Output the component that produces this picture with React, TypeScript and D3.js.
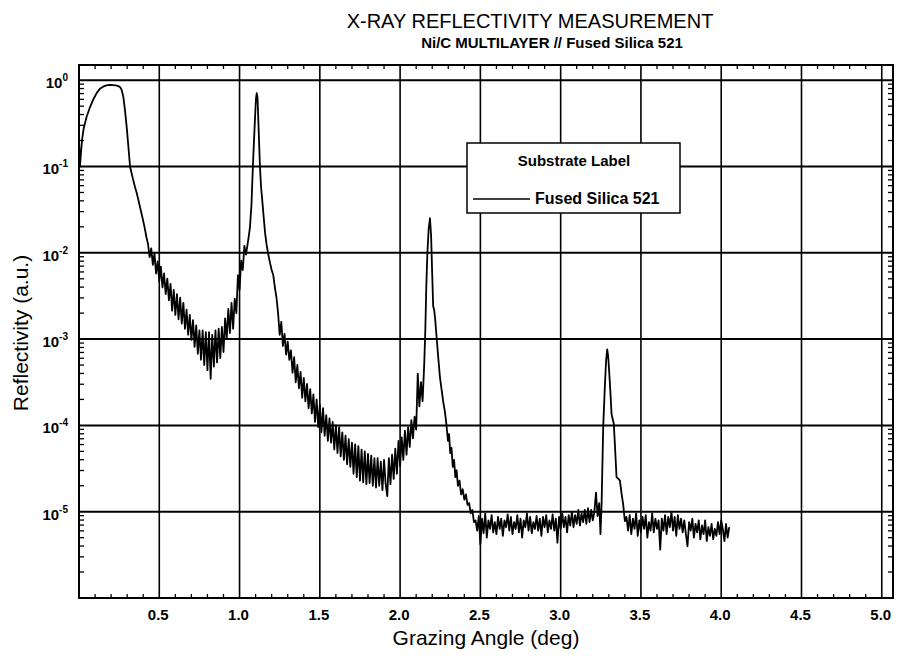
import React from "react";
import * as d3 from "d3";

const W = 898;
const H = 658;
const plot = { left: 79, right: 893, top: 65, bottom: 598 };

const titleText = "X-RAY REFLECTIVITY MEASUREMENT";
const subtitleText = "Ni/C MULTILAYER // Fused Silica 521";
const xAxisTitle = "Grazing Angle (deg)";
const yAxisTitle = "Reflectivity (a.u.)";
const legendTitle = "Substrate Label";
const seriesName = "Fused Silica 521";

const xDomain: [number, number] = [0, 5.07];
const yDomain: [number, number] = [1e-6, 1.5];
const xTicks = [0.5, 1.0, 1.5, 2.0, 2.5, 3.0, 3.5, 4.0, 4.5, 5.0];
const xTickLabels = ["0.5", "1.0", "1.5", "2.0", "2.5", "3.0", "3.5", "4.0", "4.5", "5.0"];
const yTickExponents = [0, -1, -2, -3, -4, -5];

// [grazing angle (deg), log10 reflectivity]
const criticalEdge: [number, number][] = [
  [0.000, -0.69], [0.006, -1.00], [0.012, -0.85], [0.019, -0.69], [0.030, -0.55], [0.048, -0.42],
  [0.065, -0.33], [0.087, -0.23], [0.110, -0.15], [0.130, -0.10], [0.150, -0.075], [0.170, -0.060],
  [0.190, -0.055], [0.210, -0.056], [0.230, -0.060], [0.245, -0.068], [0.258, -0.085], [0.266, -0.115],
  [0.276, -0.19], [0.286, -0.34], [0.297, -0.54], [0.308, -0.78], [0.318, -1.00], [0.333, -1.12],
  [0.349, -1.24], [0.360, -1.31], [0.370, -1.39], [0.380, -1.47], [0.390, -1.55], [0.400, -1.63],
  [0.410, -1.72], [0.420, -1.82],
];

const firstMinimum: [number, number][] = [
  [0.43, -1.90], [0.44, -2.05], [0.45, -1.95], [0.46, -2.14], [0.47, -2.01], [0.48, -2.24], [0.49, -2.10],
  [0.50, -2.33], [0.51, -2.16], [0.52, -2.40], [0.53, -2.24], [0.54, -2.48], [0.55, -2.30], [0.56, -2.55],
  [0.57, -2.36], [0.58, -2.67], [0.59, -2.43], [0.60, -2.72], [0.61, -2.48], [0.62, -2.77], [0.63, -2.52],
  [0.64, -2.82], [0.65, -2.58], [0.66, -2.88], [0.67, -2.66], [0.68, -2.95], [0.69, -2.72], [0.70, -3.01],
  [0.71, -2.78], [0.72, -3.09], [0.73, -2.84], [0.74, -3.17], [0.75, -2.90], [0.76, -3.24], [0.77, -2.90],
  [0.78, -3.30], [0.79, -2.92], [0.80, -3.36], [0.81, -2.92], [0.82, -3.46], [0.83, -2.95], [0.84, -3.32],
  [0.85, -2.90], [0.86, -3.27], [0.87, -2.88], [0.88, -3.22], [0.89, -2.86], [0.90, -3.15], [0.91, -2.76],
  [0.92, -3.00], [0.93, -2.65], [0.94, -2.93], [0.95, -2.58], [0.96, -2.88], [0.97, -2.53], [0.98, -2.70],
  [0.99, -2.26], [1.00, -2.43], [1.01, -2.09], [1.02, -2.20], [1.03, -1.92], [1.04, -2.02],
];

const firstBragg: [number, number][] = [
  [1.050, -1.90], [1.058, -1.80], [1.065, -1.70], [1.074, -1.45], [1.083, -1.00], [1.090, -0.70],
  [1.096, -0.45], [1.102, -0.22], [1.107, -0.15], [1.112, -0.20], [1.118, -0.52], [1.127, -1.00],
  [1.134, -1.24], [1.140, -1.36], [1.150, -1.58], [1.159, -1.77], [1.168, -1.90], [1.177, -2.00],
  [1.190, -2.12], [1.200, -2.20], [1.210, -2.26], [1.220, -2.40], [1.230, -2.52],
];

const secondMinimum: [number, number][] = [
  [1.24, -2.70], [1.25, -2.95], [1.26, -2.80], [1.27, -3.08], [1.28, -2.94], [1.29, -3.18], [1.30, -3.03],
  [1.31, -3.24], [1.32, -3.13], [1.33, -3.39], [1.34, -3.21], [1.35, -3.50], [1.36, -3.30], [1.37, -3.57],
  [1.38, -3.38], [1.39, -3.68], [1.40, -3.45], [1.41, -3.72], [1.42, -3.52], [1.43, -3.80], [1.44, -3.58],
  [1.45, -3.86], [1.46, -3.64], [1.47, -3.96], [1.48, -3.70], [1.49, -4.02], [1.50, -3.76], [1.51, -4.08],
  [1.52, -3.80], [1.53, -4.12], [1.54, -3.88], [1.55, -4.18], [1.56, -3.92], [1.57, -4.20], [1.58, -3.96],
  [1.59, -4.28], [1.60, -4.00], [1.61, -4.32], [1.62, -4.02], [1.63, -4.36], [1.64, -4.08], [1.65, -4.40],
  [1.66, -4.12], [1.67, -4.45], [1.68, -4.16], [1.69, -4.48], [1.70, -4.20], [1.71, -4.56], [1.72, -4.22],
  [1.73, -4.60], [1.74, -4.24], [1.75, -4.64], [1.76, -4.28], [1.77, -4.66], [1.78, -4.30], [1.79, -4.68],
  [1.80, -4.33], [1.81, -4.67], [1.82, -4.35], [1.83, -4.70], [1.84, -4.38], [1.85, -4.72], [1.86, -4.38],
  [1.87, -4.70], [1.88, -4.42], [1.89, -4.75], [1.90, -4.40], [1.91, -4.68], [1.92, -4.82], [1.93, -4.38],
  [1.94, -4.68], [1.95, -4.34], [1.96, -4.62], [1.97, -4.27], [1.98, -4.56], [1.99, -4.18], [2.00, -4.47],
  [2.01, -4.14], [2.02, -4.40], [2.03, -4.06], [2.04, -4.34], [2.05, -4.02], [2.06, -4.25], [2.07, -3.94],
  [2.08, -4.15], [2.09, -3.90], [2.10, -4.05], [2.11, -3.40], [2.12, -3.78], [2.13, -3.50], [2.14, -3.72],
];

const secondBragg: [number, number][] = [
  [2.150, -3.30], [2.157, -2.90], [2.163, -2.40], [2.170, -2.00], [2.178, -1.72], [2.186, -1.60],
  [2.193, -1.80], [2.200, -2.25], [2.206, -2.62], [2.212, -2.66], [2.218, -2.76], [2.227, -2.97],
  [2.237, -3.20], [2.248, -3.44], [2.258, -3.58], [2.268, -3.72], [2.279, -3.84], [2.289, -4.00],
  [2.298, -4.18], [2.305, -4.10], [2.312, -4.32], [2.320, -4.26], [2.328, -4.48], [2.336, -4.40],
  [2.344, -4.60], [2.352, -4.52], [2.360, -4.70], [2.370, -4.64], [2.380, -4.80], [2.390, -4.74],
  [2.400, -4.86], [2.410, -4.80], [2.420, -4.92], [2.430, -4.90], [2.440, -5.02], [2.450, -4.98],
  [2.460, -5.12],
];

const background: [number, number][] = [
  [2.47, -5.10], [2.48, -5.22], [2.49, -5.05], [2.50, -5.38], [2.51, -5.08], [2.52, -5.25], [2.53, -5.02],
  [2.54, -5.30], [2.55, -5.10], [2.56, -5.20], [2.57, -5.04], [2.58, -5.24], [2.59, -5.12], [2.60, -5.26],
  [2.61, -5.06], [2.62, -5.20], [2.63, -5.08], [2.64, -5.28], [2.65, -5.10], [2.66, -5.18], [2.67, -5.03],
  [2.68, -5.22], [2.69, -5.06], [2.70, -5.26], [2.71, -5.12], [2.72, -5.20], [2.73, -5.04], [2.74, -5.24],
  [2.75, -5.08], [2.76, -5.30], [2.77, -5.10], [2.78, -5.18], [2.79, -5.02], [2.80, -5.22], [2.81, -5.06],
  [2.82, -5.25], [2.83, -5.12], [2.84, -5.20], [2.85, -5.05], [2.86, -5.22], [2.87, -5.08], [2.88, -5.28],
  [2.89, -5.06], [2.90, -5.18], [2.91, -5.04], [2.92, -5.24], [2.93, -5.10], [2.94, -5.20], [2.95, -5.03],
  [2.96, -5.22], [2.97, -5.08], [2.98, -5.36], [2.99, -5.06], [3.00, -5.20], [3.01, -5.02], [3.02, -5.18],
  [3.03, -5.06], [3.04, -5.24], [3.05, -5.04], [3.06, -5.16], [3.07, -5.00], [3.08, -5.18], [3.09, -5.04],
  [3.10, -5.14], [3.11, -4.98], [3.12, -5.16], [3.13, -5.02], [3.14, -5.12], [3.15, -4.98], [3.16, -5.14],
  [3.17, -4.96], [3.18, -5.12], [3.19, -4.98], [3.20, -5.10], [3.21, -5.00], [3.22, -4.78], [3.23, -5.05],
  [3.24, -4.90], [3.248, -5.26],
];

const thirdBragg: [number, number][] = [
  [3.255, -4.91], [3.265, -4.02], [3.275, -3.56], [3.283, -3.25], [3.290, -3.12], [3.296, -3.20],
  [3.302, -3.37], [3.310, -3.62], [3.317, -3.87], [3.331, -3.98], [3.340, -4.30], [3.348, -4.60],
  [3.360, -4.62], [3.369, -4.64], [3.380, -4.80], [3.389, -4.91], [3.400, -5.11],
];

const tail: [number, number][] = [
  [3.41, -5.06], [3.42, -5.22], [3.43, -5.04], [3.44, -5.26], [3.45, -5.08], [3.46, -5.20], [3.47, -5.02],
  [3.48, -5.28], [3.49, -5.10], [3.50, -5.24], [3.51, -5.06], [3.52, -5.20], [3.53, -5.04], [3.54, -5.30],
  [3.55, -5.12], [3.56, -5.22], [3.57, -5.02], [3.58, -5.24], [3.59, -5.08], [3.60, -5.20], [3.61, -5.10],
  [3.62, -5.44], [3.63, -5.08], [3.64, -5.22], [3.65, -5.04], [3.66, -5.26], [3.67, -5.06], [3.68, -5.18],
  [3.69, -5.00], [3.70, -5.22], [3.71, -5.06], [3.72, -5.28], [3.73, -5.04], [3.74, -5.20], [3.75, -5.08],
  [3.76, -5.24], [3.77, -5.10], [3.78, -5.26], [3.79, -5.40], [3.80, -5.12], [3.81, -5.22], [3.82, -5.08],
  [3.83, -5.30], [3.84, -5.14], [3.85, -5.24], [3.86, -5.10], [3.87, -5.32], [3.88, -5.16], [3.89, -5.26],
  [3.90, -5.10], [3.91, -5.34], [3.92, -5.18], [3.93, -5.28], [3.94, -5.14], [3.95, -5.32], [3.96, -5.20],
  [3.97, -5.28], [3.98, -5.12], [3.99, -5.26], [4.00, -5.10], [4.01, -5.20], [4.02, -5.34], [4.03, -5.14],
  [4.04, -5.30], [4.05, -5.18],
];

const font = "'Liberation Sans', Arial, Helvetica, sans-serif";
const narrow = "'Liberation Sans Narrow', 'Arial Narrow', 'Liberation Sans', Arial, sans-serif";

export default function App() {
  const x = d3.scaleLinear().domain(xDomain).range([plot.left, plot.right]);
  const y = d3.scaleLog().domain(yDomain).range([plot.bottom, plot.top]);

  const series = [
    ...criticalEdge, ...firstMinimum, ...firstBragg, ...secondMinimum,
    ...secondBragg, ...background, ...thirdBragg, ...tail,
  ];
  const line = d3
    .line<[number, number]>()
    .x((d) => x(d[0]))
    .y((d) => y(Math.pow(10, d[1])));

  const minorY: number[] = [];
  for (let k = -6; k <= 0; k++) {
    for (let m = 2; m <= 9; m++) {
      const v = m * Math.pow(10, k);
      if (v >= yDomain[0] && v <= yDomain[1]) minorY.push(v);
    }
  }
  const minorX = d3.range(1, 51).map((i) => i / 10).filter((v) => v <= xDomain[1] && Math.round(v * 10) % 5 !== 0);

  return (
    <svg width={W} height={H} style={{ position: "absolute", left: 0, top: 0, background: "#fff" }}>
      <rect x={0} y={0} width={W} height={H} fill="#fff" />
      {/* Titles */}
      <text x={530} y={28} textAnchor="middle" fontFamily={font} fontSize={20} fill="#000">{titleText}</text>
      <text x={552} y={48} textAnchor="middle" fontFamily={narrow} fontWeight="bold" fontSize={15} fill="#000">{subtitleText}</text>

      {/* Grid */}
      {yTickExponents.map((e) => (
        <line key={"gy" + e} x1={plot.left} x2={plot.right} y1={y(Math.pow(10, e))} y2={y(Math.pow(10, e))} stroke="#000" strokeWidth={2} />
      ))}
      {xTicks.map((t) => (
        <line key={"gx" + t} x1={x(t)} x2={x(t)} y1={plot.top} y2={plot.bottom} stroke="#000" strokeWidth={1.6} />
      ))}

      {/* Minor ticks */}
      {minorY.map((v, i) => (
        <g key={"my" + i}>
          <line x1={plot.left} x2={plot.left + 5} y1={y(v)} y2={y(v)} stroke="#000" strokeWidth={1.3} />
          <line x1={plot.right} x2={plot.right - 5} y1={y(v)} y2={y(v)} stroke="#000" strokeWidth={1.3} />
        </g>
      ))}
      {minorX.map((v, i) => (
        <g key={"mx" + i}>
          <line x1={x(v)} x2={x(v)} y1={plot.bottom} y2={plot.bottom - 4} stroke="#000" strokeWidth={1.3} />
          <line x1={x(v)} x2={x(v)} y1={plot.top} y2={plot.top + 4} stroke="#000" strokeWidth={1.3} />
        </g>
      ))}

      {/* Data */}
      <path d={line(series) || ""} fill="none" stroke="#000" strokeWidth={1.8} strokeLinejoin="round" />

      {/* Frame */}
      <rect x={plot.left} y={plot.top} width={plot.right - plot.left} height={plot.bottom - plot.top} fill="none" stroke="#000" strokeWidth={2} />

      {/* Legend */}
      <rect x={467} y={143} width={213} height={70} fill="#fff" stroke="#000" strokeWidth={1.5} />
      <text x={574} y={166} textAnchor="middle" fontFamily={font} fontWeight="bold" fontSize={15} fill="#000">{legendTitle}</text>
      <line x1={473} x2={530} y1={199} y2={199} stroke="#000" strokeWidth={1.6} />
      <text x={535} y={204} fontFamily={font} fontWeight="bold" fontSize={16} fill="#000">{seriesName}</text>

      {/* Y tick labels */}
      {yTickExponents.map((e) => (
        <text key={"yl" + e} x={68} y={y(Math.pow(10, e)) + 8} textAnchor="end" fontFamily={font} fontWeight="bold" fontSize={15} fill="#000">
          10<tspan dy={-7} fontSize={10}>{String(e)}</tspan>
        </text>
      ))}

      {/* X tick labels */}
      {xTicks.map((t, i) => (
        <text key={"xl" + t} x={x(t) - 1} y={620} textAnchor="middle" fontFamily={narrow} fontWeight="bold" fontSize={15} fill="#000">
          {xTickLabels[i]}
        </text>
      ))}

      {/* Axis titles */}
      <text x={486} y={645} textAnchor="middle" fontFamily={font} fontSize={21} fill="#000">{xAxisTitle}</text>
      <text transform="translate(28,333) rotate(-90)" textAnchor="middle" fontFamily={font} fontSize={21} fill="#000">{yAxisTitle}</text>
    </svg>
  );
}
